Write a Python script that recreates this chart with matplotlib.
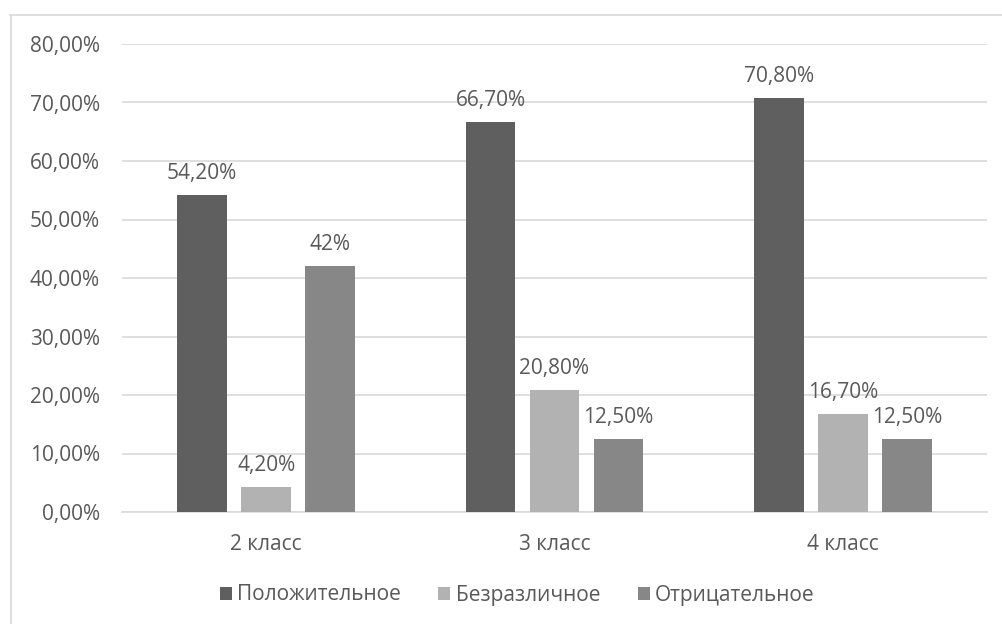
import matplotlib.pyplot as plt
from matplotlib.lines import Line2D
from matplotlib.ticker import FuncFormatter
import numpy as np

plt.rcParams['font.family'] = ['Open Sans', 'DejaVu Sans']

classes = ['2 класс', '3 класс', '4 класс']
series = ['Положительное', 'Безразличное', 'Отрицательное']
positive = [54.2, 66.7, 70.8]
neutral = [4.2, 20.8, 16.7]
negative = [42.0, 12.5, 12.5]
labels = [['54,20%', '66,70%', '70,80%'],
          ['4,20%', '20,80%', '16,70%'],
          ['42%', '12,50%', '12,50%']]
colors = ['#5f5f5f', '#b2b2b2', '#878787']
text_color = '#595959'
fs = 15

fig = plt.figure(figsize=(10.03, 6.24), dpi=100)
ax = fig.add_axes([122 / 1003, 112 / 624, 865 / 1003, 468 / 624])

# chart frame (top and left edges only)
fig.add_artist(Line2D([10 / 1003, 1], [1 - 14.5 / 624] * 2, color='#d9d9d9', lw=1.2))
fig.add_artist(Line2D([10.5 / 1003] * 2, [0, 1 - 14.5 / 624], color='#d9d9d9', lw=1.2))

x = np.arange(len(classes))
width = 0.173
step = 0.222
for i, (vals, col) in enumerate(zip([positive, neutral, negative], colors)):
    pos = x + (i - 1) * step
    ax.bar(pos, vals, width, color=col, label=series[i], zorder=3)
    for px, v, t in zip(pos, vals, labels[i]):
        ax.annotate(t, (px, v), xytext=(0, 8), textcoords='offset points',
                    ha='center', va='bottom', fontsize=fs, color=text_color)

ax.set_xlim(-0.5, 2.5)
ax.set_ylim(0, 80)
ax.set_yticks(range(0, 81, 10))
ax.yaxis.set_major_formatter(FuncFormatter(lambda v, p: f'{v:.2f}%'.replace('.', ',')))
ax.set_xticks(x)
ax.set_xticklabels(classes)
ax.grid(axis='y', color='#d9d9d9', lw=1.2, zorder=0)
for s in ['top', 'right', 'left']:
    ax.spines[s].set_visible(False)
ax.spines['bottom'].set_color('#d9d9d9')
ax.spines['bottom'].set_linewidth(1.2)
ax.tick_params(axis='both', length=0, labelsize=fs, colors=text_color)
ax.tick_params(axis='x', pad=16)
ax.tick_params(axis='y', pad=16)

leg = fig.legend(loc='center', bbox_to_anchor=(517 / 1003, 1 - 595 / 624), ncol=3,
                 frameon=False, fontsize=fs, handlelength=0.58, handleheight=0.58,
                 handletextpad=0.25, columnspacing=1.8)
for t in leg.get_texts():
    t.set_color(text_color)

fig.savefig('out.png', dpi=100, facecolor='white')
